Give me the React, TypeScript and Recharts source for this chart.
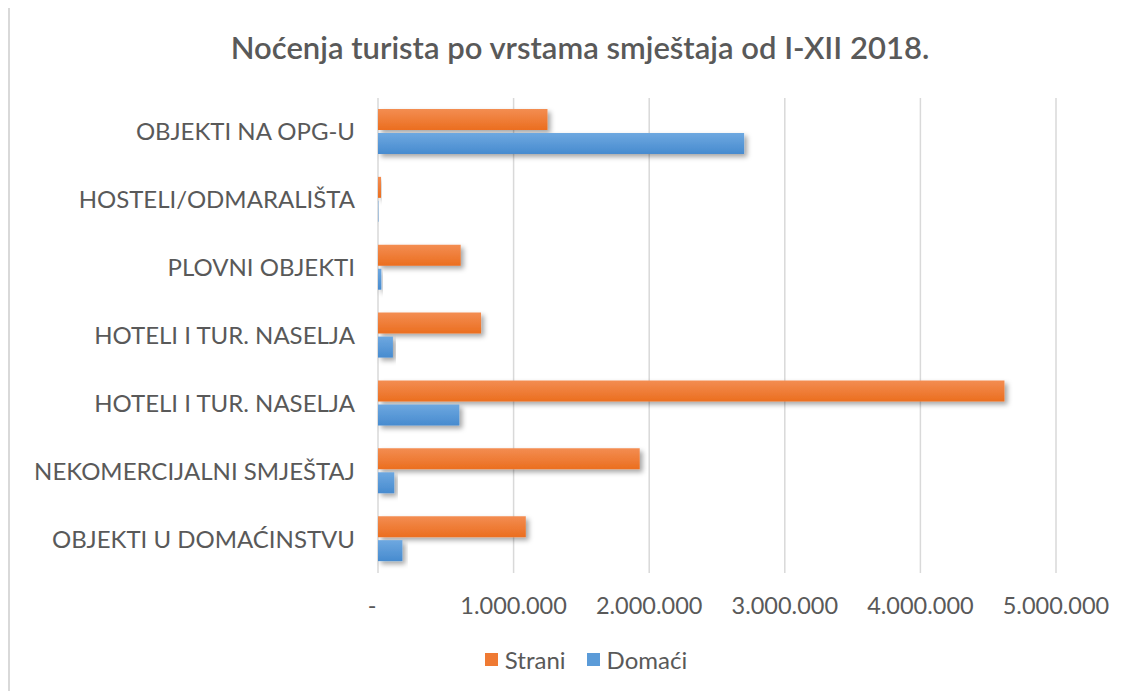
import React from "react";
import { BarChart, Bar, XAxis, YAxis, CartesianGrid, Legend } from "recharts";

const categories = [
  "OBJEKTI NA OPG-U",
  "HOSTELI/ODMARALIŠTA",
  "PLOVNI OBJEKTI",
  "HOTELI I TUR. NASELJA",
  "HOTELI I TUR. NASELJA",
  "NEKOMERCIJALNI SMJEŠTAJ",
  "OBJEKTI U DOMAĆINSTVU",
];

const strani = [1250000, 22000, 610000, 760000, 4620000, 1930000, 1090000];
const domaci = [2700000, 3000, 25000, 110000, 600000, 120000, 180000];

const xTicks = [0, 1000000, 2000000, 3000000, 4000000, 5000000];

const series = [
  { key: "Strani", name: "Strani", swatch: "#EF7A33", fill: "url(#gradOrange)" },
  { key: "Domaci", name: "Domaći", swatch: "#5B9BD8", fill: "url(#gradBlue)" },
];

const data = categories.map((name, i) => ({
  id: i,
  name,
  Strani: strani[i],
  Domaci: domaci[i],
}));

const TEXT = "#595959";
const FONT = "Lato, 'Open Sans', sans-serif";

const formatNumber = (v: number) =>
  v === 0 ? "-" : v.toString().replace(/\B(?=(\d{3})+(?!\d))/g, ".");

const XTick = ({ x, y, payload }: any) => (
  <text
    x={payload.value === 0 ? x - 6 : x}
    y={y}
    dy={21}
    textAnchor="middle"
    fill={TEXT}
    fontSize={23.5}
    fontFamily={FONT}
  >
    {formatNumber(payload.value)}
  </text>
);

const LegendContent = () => (
  <div style={{ display: "flex", justifyContent: "center", gap: 21, fontSize: 24, fontFamily: FONT, color: TEXT }}>
    {series.map((s) => (
      <div key={s.key} style={{ display: "flex", alignItems: "center", gap: 7 }}>
        <span style={{ width: 13, height: 13, background: s.swatch, display: "inline-block" }} />
        <span>{s.name}</span>
      </div>
    ))}
  </div>
);

export default function App() {
  return (
    <div
      style={{
        position: "relative",
        marginTop: -2,
        width: 1128,
        height: 683,
        borderLeft: "2px solid #d9d9d9",
        borderTop: "2px solid #d9d9d9",
        background: "#fff",
        fontFamily: FONT,
      }}
    >
      <div
        style={{
          position: "absolute",
          top: 20,
          left: 0,
          width: 1140,
          textAlign: "center",
          fontSize: 31,
          fontWeight: 600,
          color: TEXT,
        }}
      >
        Noćenja turista po vrstama smještaja od I-XII 2018.
      </div>
      <BarChart
        width={1128}
        height={683}
        data={data}
        layout="vertical"
        margin={{ top: 90, right: 82, bottom: 68, left: 0 }}
        barSize={21}
        barGap={3}
      >
        <defs>
          <linearGradient id="gradOrange" x1="0" y1="0" x2="0" y2="1">
            <stop offset="0%" stopColor="#F38D52" />
            <stop offset="100%" stopColor="#EB6E1F" />
          </linearGradient>
          <linearGradient id="gradBlue" x1="0" y1="0" x2="0" y2="1">
            <stop offset="0%" stopColor="#6EA8E0" />
            <stop offset="100%" stopColor="#478BCF" />
          </linearGradient>
          <filter id="shadow" x="-10%" y="-30%" width="130%" height="180%">
            <feDropShadow dx="3" dy="3" stdDeviation="2.5" floodColor="#000" floodOpacity="0.35" />
          </filter>
        </defs>
        <CartesianGrid vertical horizontal={false} stroke="#d9d9d9" strokeWidth={1.5} />
        <XAxis
          type="number"
          domain={[0, 5000000]}
          ticks={xTicks}
          axisLine={false}
          tickLine={false}
          tick={<XTick />}
          height={50}
          tickMargin={14}
          interval={0}
        />
        <YAxis
          type="category"
          dataKey="id"
          width={368}
          axisLine={false}
          tickLine={false}
          tickSize={0}
          tickMargin={23}
          interval={0}
          tickFormatter={(i: number) => categories[i]}
          tick={{ fill: TEXT, fontSize: 24, fontFamily: FONT }}
        />
        <Legend
          layout="horizontal"
          verticalAlign="middle"
          align="center"
          wrapperStyle={{ top: 637, left: 12, width: 1128 }}
          content={<LegendContent />}
        />
        {series.map((s) => (
          <Bar
            key={s.key}
            dataKey={s.key}
            name={s.name}
            fill={s.fill}
            filter="url(#shadow)"
            isAnimationActive={false}
          />
        ))}
      </BarChart>
    </div>
  );
}
